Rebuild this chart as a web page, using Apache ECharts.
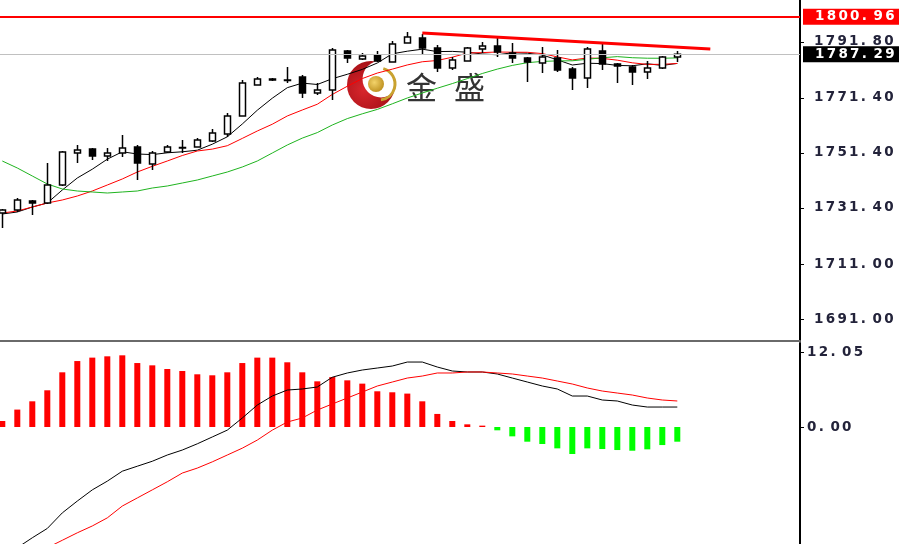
<!DOCTYPE html>
<html><head><meta charset="utf-8">
<script src="https://cdn.jsdelivr.net/npm/echarts@6/dist/echarts.min.js"></script>
<style>html,body{margin:0;padding:0;background:#fff;overflow:hidden}#c{width:899px;height:544px}</style>
</head><body><div id="c"></div>
<script>
// ---- data ----
const opens  = [1729.59,1730.67,1733.95,1733.22,1739.77,1751.40,1752.86,1750.31,1751.40,1753.58,1747.40,1751.77,1753.40,1753.58,1755.77,1758.31,1764.86,1776.13,1778.31,1777.95,1779.04,1773.22,1774.31,1788.49,1785.59,1787.04,1784.49,1791.40,1793.22,1789.59,1782.31,1784.86,1789.22,1790.31,1787.77,1785.95,1784.13,1785.95,1781.95,1778.68,1788.49,1783.77,1782.68,1780.86,1782.31,1786.31];
const closes = [1730.67,1734.31,1733.22,1739.77,1751.77,1752.49,1750.31,1751.40,1753.22,1747.77,1751.40,1753.58,1753.22,1756.13,1758.68,1764.86,1776.86,1778.31,1777.95,1777.77,1773.22,1774.31,1788.86,1785.95,1786.68,1784.86,1791.04,1793.58,1789.59,1782.31,1785.22,1789.59,1790.31,1788.13,1785.95,1784.49,1786.31,1781.59,1778.68,1789.22,1783.77,1783.04,1780.86,1782.31,1786.31,1787.29];
const lows   = [1724.13,1729.95,1728.86,1732.86,1739.40,1747.77,1748.86,1748.49,1749.95,1741.59,1745.22,1751.40,1751.40,1753.40,1755.40,1757.22,1764.86,1776.13,1777.58,1776.86,1771.40,1772.49,1770.68,1784.13,1785.22,1784.49,1784.49,1791.40,1787.04,1780.86,1781.59,1784.86,1787.77,1786.31,1784.13,1777.22,1780.49,1780.86,1774.31,1775.04,1781.59,1776.86,1776.13,1778.31,1781.95,1784.49];
const highs  = [1731.04,1735.04,1734.31,1747.77,1752.13,1754.31,1753.22,1753.22,1757.95,1754.31,1752.13,1754.31,1756.13,1756.86,1760.13,1765.95,1777.95,1779.04,1778.68,1782.68,1779.77,1776.86,1789.59,1788.86,1787.77,1788.49,1792.13,1795.40,1794.68,1790.68,1786.31,1789.95,1791.77,1793.22,1791.40,1786.31,1789.95,1788.86,1782.68,1789.95,1791.77,1784.13,1783.40,1784.86,1786.68,1788.49];
const ma5  = [1729.22,1729.95,1731.76,1733.22,1737.95,1742.31,1745.51,1749.15,1751.84,1751.04,1750.82,1751.47,1751.84,1752.42,1754.60,1757.29,1761.95,1766.96,1771.33,1775.15,1776.82,1776.31,1778.42,1780.02,1781.80,1784.13,1787.47,1788.42,1789.15,1788.27,1788.35,1788.05,1787.40,1787.11,1787.84,1787.69,1787.04,1785.29,1783.40,1784.05,1783.91,1783.25,1783.11,1783.84,1783.25,1783.98];
const ma10 = [1729.58,1730.31,1731.76,1733.22,1734.31,1735.76,1737.58,1739.76,1741.95,1744.49,1746.56,1748.49,1750.49,1752.13,1752.82,1754.05,1756.71,1759.40,1761.87,1764.87,1767.04,1769.13,1772.69,1775.67,1778.47,1780.47,1781.89,1783.42,1784.58,1785.04,1786.24,1787.76,1787.91,1788.13,1788.05,1788.02,1787.55,1786.35,1785.25,1785.95,1785.80,1785.15,1784.20,1783.62,1783.65,1783.95];
const ma20 = [1748.49,1745.95,1743.04,1740.13,1738.31,1737.58,1737.22,1736.85,1737.22,1737.58,1738.67,1739.40,1740.49,1741.58,1743.04,1744.49,1746.31,1748.49,1751.40,1754.31,1756.82,1758.82,1761.58,1763.91,1765.65,1767.25,1769.29,1771.40,1773.22,1774.96,1776.64,1778.45,1780.31,1781.91,1783.25,1784.24,1784.71,1784.89,1784.93,1785.49,1786.02,1786.45,1786.05,1785.87,1785.85,1785.98];
const macdHist   = [0.97,2.80,4.13,5.90,8.79,10.60,11.15,11.36,11.52,10.28,9.91,9.32,9.00,8.47,8.31,8.79,10.28,11.15,11.15,10.40,8.79,7.34,8.03,7.50,6.97,5.74,5.58,5.37,4.13,2.10,0.97,0.43,0.22,-0.53,-1.50,-2.36,-2.73,-3.43,-4.34,-3.43,-3.54,-3.70,-3.81,-3.59,-2.90,-2.36];
const macdLine   = [-20.9,-19.4,-17.8,-16.3,-13.8,-11.9,-10.1,-8.7,-7.1,-6.3,-5.5,-4.5,-3.7,-2.7,-1.6,-0.5,1.45,3.53,4.98,5.94,6.11,6.43,8.0,8.68,9.16,9.48,9.80,10.44,10.44,9.64,9.00,8.84,8.84,8.52,7.87,7.23,6.59,6.11,4.98,4.98,4.34,4.18,3.53,3.21,3.21,3.21];
const signalLine = [-23.0,-21.9,-20.6,-19.4,-18.2,-17.0,-15.9,-14.6,-12.7,-11.4,-10.1,-8.8,-7.4,-6.6,-5.6,-4.5,-3.4,-2.1,-0.5,0.8,1.45,2.73,3.70,4.66,5.62,6.59,7.23,7.87,8.19,8.68,8.68,8.84,8.84,8.68,8.52,8.19,7.87,7.39,6.91,6.27,5.78,5.46,5.14,4.66,4.34,4.18];
const priceTicks = [1691.00, 1711.00, 1731.40, 1751.40, 1771.40, 1791.80];
const macdTicks = [0.00, 12.05];
const resistanceLevel = 1800.96;
const lastPrice = 1787.29;
const trendIdx = [28, 47.2];
const trendVal = [1795.0, 1789.2];

// ---- helpers ----
const FONT = 'DejaVu Sans';
function spaced(s, key) { return s.split('').map(ch => '{' + key + '|' + ch + '}').join(''); }
function charStyle(color) { return { width: 11.7, color: color, fontFamily: FONT, fontSize: 13.5, fontWeight: 'bold', lineHeight: 14 }; }

const idx = opens.map((_, i) => i);
const candleData = idx.map(i => [i, opens[i], closes[i], lows[i], highs[i]]);
const pair = arr => idx.map(i => [i, arr[i]]);

const chart = echarts.init(document.getElementById('c'), null, { renderer: 'canvas' });
chart.setOption({
  animation: false,
  backgroundColor: '#ffffff',
  grid: [
    { left: 0, top: 0, width: 800, height: 341 },
    { left: 0, top: 343, width: 800, height: 201 }
  ],
  xAxis: [
    { type: 'value', gridIndex: 0, min: -0.1533, max: 53.18, position: 'bottom',
      axisLine: { show: true, onZero: false, lineStyle: { color: '#6a6a6a', width: 2 } },
      axisTick: { show: false }, axisLabel: { show: false }, splitLine: { show: false } },
    { type: 'value', gridIndex: 1, min: -0.1533, max: 53.18,
      axisLine: { show: false, onZero: false }, axisTick: { show: false }, axisLabel: { show: false }, splitLine: { show: false } }
  ],
  yAxis: [
    { type: 'value', gridIndex: 0, position: 'right', min: 1683.036, max: 1807.036,
      axisLine: { show: true, onZero: false, lineStyle: { color: '#000', width: 2 } },
      axisTick: { show: true, customValues: priceTicks, length: 4, lineStyle: { color: '#000', width: 1 } },
      axisLabel: { customValues: priceTicks, margin: 14, formatter: v => spaced(Number(v).toFixed(2), 'c'), rich: { c: charStyle('#23233a') } },
      splitLine: { show: false } },
    { type: 'value', gridIndex: 1, position: 'right', min: -18.8, max: 13.5,
      axisLine: { show: true, onZero: false, lineStyle: { color: '#000', width: 2 } },
      axisTick: { show: true, customValues: macdTicks, length: 4, lineStyle: { color: '#000', width: 1 } },
      axisLabel: { customValues: macdTicks, margin: 7, formatter: v => spaced(Number(v).toFixed(2), 'c'), rich: { c: charStyle('#23233a') } },
      splitLine: { show: false } }
  ],
  graphic: [
    { type: 'circle', z: 0, shape: { cx: 371, cy: 85, r: 24 },
      style: { fill: new echarts.graphic.RadialGradient(0.35, 0.6, 0.7, [{ offset: 0, color: '#d8262c' }, { offset: 1, color: '#a00d14' }]) } },
    { type: 'circle', z: 0, shape: { cx: 381, cy: 79, r: 18.5 }, style: { fill: '#ffffff' } },
    { type: 'arc', z: 0, shape: { cx: 379, cy: 84, r: 16, startAngle: -1.3, endAngle: 1.45 },
      style: { stroke: '#c9a230', lineWidth: 3, fill: null } },
    { type: 'circle', z: 0, shape: { cx: 376, cy: 84, r: 8 },
      style: { fill: new echarts.graphic.RadialGradient(0.4, 0.4, 0.7, [{ offset: 0, color: '#f3d36a' }, { offset: 1, color: '#b88a18' }]) } },
    { type: 'text', z: 0, x: 406, y: 72,
      style: { text: '{a|金}{a|盛}', rich: { a: { width: 48, fontSize: 31, fontFamily: 'Noto Sans CJK SC', fill: '#333333' } }, fill: '#333333', fontSize: 31, fontFamily: 'Noto Sans CJK SC' } }
  ],
  series: [
    { type: 'candlestick', name: 'price', xAxisIndex: 0, yAxisIndex: 0, data: candleData,
      encode: { x: 0, y: [1, 2, 3, 4] }, barWidth: 7, z: 3,
      itemStyle: { color: '#ffffff', color0: '#000000', borderColor: '#000000', borderColor0: '#000000', borderWidth: 1.5 },
      markLine: { symbol: 'none', silent: true, animation: false, z: 4,
        data: [
          { yAxis: resistanceLevel, lineStyle: { color: '#ff0000', width: 2, type: 'solid' },
            label: { show: true, position: 'end', distance: 3, backgroundColor: '#ff0000', padding: [1, 10, 1, 12],
              formatter: p => spaced(Number(p.value).toFixed(2), 'w'), rich: { w: charStyle('#ffffff') } } },
          { yAxis: lastPrice, lineStyle: { color: '#c0c0c0', width: 1, type: 'solid' },
            label: { show: true, position: 'end', distance: 3, backgroundColor: '#000000', padding: [1, 10, 1, 12],
              formatter: p => spaced(Number(p.value).toFixed(2), 'w'), rich: { w: charStyle('#ffffff') } } }
        ] } },
    { type: 'line', name: 'MA5', xAxisIndex: 0, yAxisIndex: 0, data: pair(ma5), showSymbol: false, z: 2,
      lineStyle: { color: '#000000', width: 1 } },
    { type: 'line', name: 'MA10', xAxisIndex: 0, yAxisIndex: 0, data: pair(ma10), showSymbol: false, z: 2,
      lineStyle: { color: '#ff0000', width: 1 } },
    { type: 'line', name: 'MA20', xAxisIndex: 0, yAxisIndex: 0, data: pair(ma20), showSymbol: false, z: 2,
      lineStyle: { color: '#1fb41f', width: 1 } },
    { type: 'line', name: 'trend', xAxisIndex: 0, yAxisIndex: 0, data: trendIdx.map((x, i) => [x, trendVal[i]]),
      showSymbol: false, z: 5, lineStyle: { color: '#ff0000', width: 3 } },
    { type: 'bar', name: 'hist', xAxisIndex: 1, yAxisIndex: 1, data: pair(macdHist), barWidth: 6,
      itemStyle: { color: p => (p.value[1] >= 0 ? '#ff0000' : '#00ff00') } },
    { type: 'line', name: 'MACD', xAxisIndex: 1, yAxisIndex: 1, data: pair(macdLine), showSymbol: false,
      lineStyle: { color: '#000000', width: 1 } },
    { type: 'line', name: 'Signal', xAxisIndex: 1, yAxisIndex: 1, data: pair(signalLine), showSymbol: false,
      lineStyle: { color: '#ff0000', width: 1 } }
  ]
});
</script>
</body></html>
